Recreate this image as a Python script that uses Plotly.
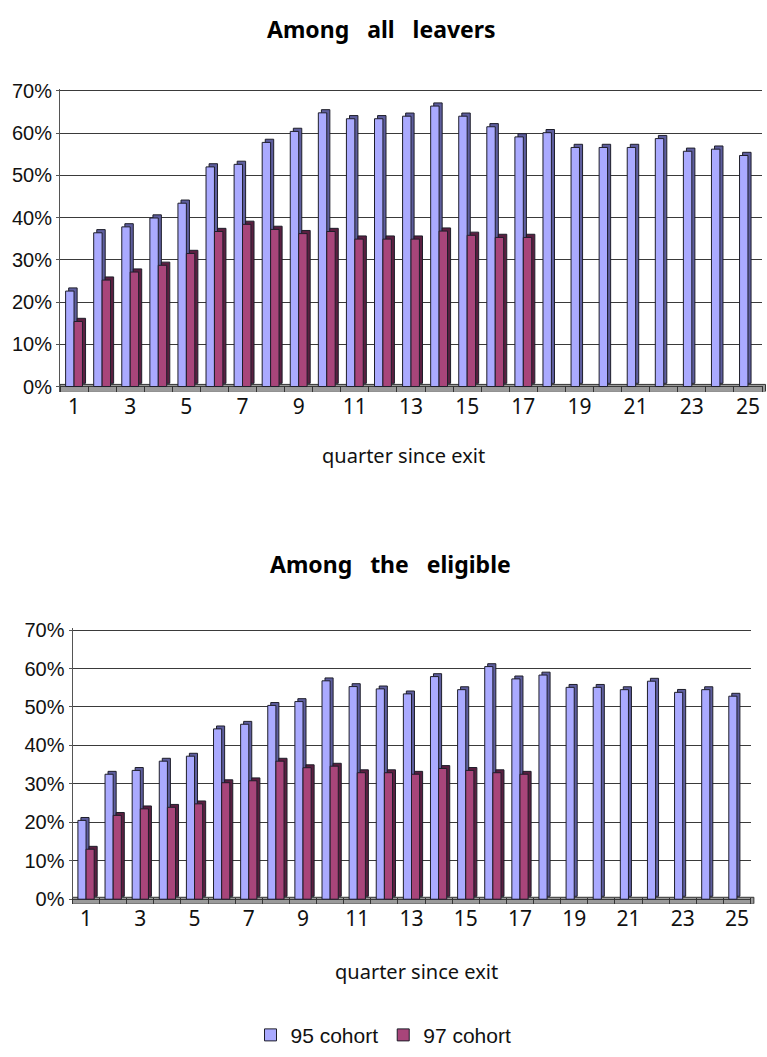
import plotly.graph_objects as go

# Quarters since exit
quarters = list(range(1, 26))
tick_quarters = list(range(1, 26, 2))

# Employment share (%) among all leavers
all_95 = [22.6, 36.4, 37.8, 39.9, 43.4, 52.0, 52.6, 57.8, 60.4, 64.8, 63.4, 63.4, 64.0,
          66.4, 64.0, 61.5, 59.1, 60.1, 56.6, 56.6, 56.6, 58.7, 55.7, 56.2, 54.7]
all_97 = [15.4, 25.2, 27.1, 28.7, 31.5, 36.7, 38.4, 37.2, 36.2, 36.7, 34.9, 34.9, 34.9,
          36.8, 35.8, 35.3, 35.3]

# Employment share (%) among the eligible
elig_95 = [20.5, 32.5, 33.5, 35.9, 37.2, 44.3, 45.5, 50.4, 51.4, 56.8, 55.3, 54.7, 53.4,
           57.9, 54.5, 60.5, 57.3, 58.3, 55.1, 55.1, 54.5, 56.7, 53.8, 54.5, 52.8]
elig_97 = [13.0, 21.8, 23.5, 23.9, 24.8, 30.3, 30.8, 35.9, 34.2, 34.6, 32.9, 32.9, 32.5,
           34.0, 33.5, 32.9, 32.5]

y_ticks = [0, 10, 20, 30, 40, 50, 60, 70]
y_labels = [f"{v}%" for v in y_ticks]

C95_FRONT, C95_SIDE = "#AAAAFF", "#5E5E9E"
C97_FRONT, C97_SIDE = "#A8457A", "#5A1F40"
EDGE = "#1E1E2A"

BAR_W = 0.3      # bar width in category units
DX, DY = 0.11, 0.75   # pseudo-3D depth shift (category units, percent)

fig = go.Figure()


def add_series(values, off, front, side, name, xa, ya, legend):
    xs = quarters[:len(values)]
    # depth face behind the front face
    fig.add_trace(go.Bar(
        x=xs, y=values, base=[DY] * len(values), offset=off + DX, width=BAR_W,
        marker=dict(color=side, line=dict(color=EDGE, width=1)),
        xaxis=xa, yaxis=ya, showlegend=False, hoverinfo="skip"))
    fig.add_trace(go.Bar(
        x=xs, y=values, offset=off, width=BAR_W, name=name,
        marker=dict(color=front, line=dict(color=EDGE, width=1)),
        xaxis=xa, yaxis=ya, showlegend=legend, legendgroup=name))


add_series(all_95, -BAR_W, C95_FRONT, C95_SIDE, "95 cohort", "x", "y", True)
add_series(all_97, 0.0, C97_FRONT, C97_SIDE, "97 cohort", "x", "y", True)
add_series(elig_95, -BAR_W, C95_FRONT, C95_SIDE, "95 cohort", "x2", "y2", False)
add_series(elig_97, 0.0, C97_FRONT, C97_SIDE, "97 cohort", "x2", "y2", False)

W, H = 767, 1057


def px_x(a, b):
    return [a / W, b / W]


def px_y(top, bottom):
    return [1 - bottom / H, 1 - top / H]


xaxis_common = dict(
    range=[0.5, 25.5], tickmode="array", tickvals=tick_quarters,
    ticktext=[str(q) for q in tick_quarters], showgrid=False, zeroline=False,
    showline=False, ticks="",
    tickfont=dict(family="Noto Sans", size=21, color="#111111"),
    minor=dict(ticks="inside", tick0=0.5, dtick=1, ticklen=6, tickcolor="#333333", showgrid=False),
)
yaxis_common = dict(
    range=[-1.2, 70.5], tickmode="array", tickvals=y_ticks, ticktext=y_labels,
    showgrid=True, gridcolor="#3A3A3A", gridwidth=1, zeroline=False,
    showline=True, linecolor="#555555", linewidth=1, ticks="outside", ticklen=3,
    tickcolor="#555555",
    tickfont=dict(family="Liberation Sans", size=20, color="#111111"),
)

fig.update_layout(
    width=W, height=H, margin=dict(l=0, r=0, t=0, b=0),
    paper_bgcolor="white", plot_bgcolor="white",
    barmode="overlay",
    xaxis=dict(domain=px_x(60, 762), anchor="y", **xaxis_common),
    yaxis=dict(domain=px_y(80.9, 388.1), anchor="x", **yaxis_common),
    xaxis2=dict(domain=px_x(72.5, 750.5), anchor="y2", **xaxis_common),
    yaxis2=dict(domain=px_y(628.05, 907.7), anchor="x2", **yaxis_common),
    legend=dict(orientation="h", x=0.5, xanchor="center", y=1 - 1041 / H, yanchor="middle",
                font=dict(family="Liberation Sans", size=21, color="#111111"),
                itemwidth=30, traceorder="normal"),
    showlegend=True,
)

# floor strips under the bars
for xr, yr in (("x domain", "y"), ("x2 domain", "y2")):
    fig.add_shape(type="rect", xref=xr, yref=yr, x0=0, x1=1.005, y0=-1.2, y1=0.5,
                  fillcolor="#9A9A9A", line=dict(color="#333333", width=1), layer="below")

NB = "\u00a0"
title_font = dict(family="Noto Sans", size=23, color="black", weight="bold")
label_font = dict(family="Noto Sans", size=20, color="#111111")

fig.add_annotation(text=f"Among{NB*3}all{NB*3}leavers", x=381 / W, y=1 - 20 / H,
                   xref="paper", yref="paper", showarrow=False, font=title_font,
                   xanchor="center", yanchor="middle")
fig.add_annotation(text="quarter since exit", x=403 / W, y=1 - 453 / H,
                   xref="paper", yref="paper", showarrow=False, font=label_font,
                   xanchor="center", yanchor="middle")
fig.add_annotation(text=f"Among{NB*3}the{NB*3}eligible", x=390 / W, y=1 - 563 / H,
                   xref="paper", yref="paper", showarrow=False, font=title_font,
                   xanchor="center", yanchor="middle")
fig.add_annotation(text="quarter since exit", x=416 / W, y=1 - 976 / H,
                   xref="paper", yref="paper", showarrow=False, font=label_font,
                   xanchor="center", yanchor="middle")

fig.write_html("out.html")
